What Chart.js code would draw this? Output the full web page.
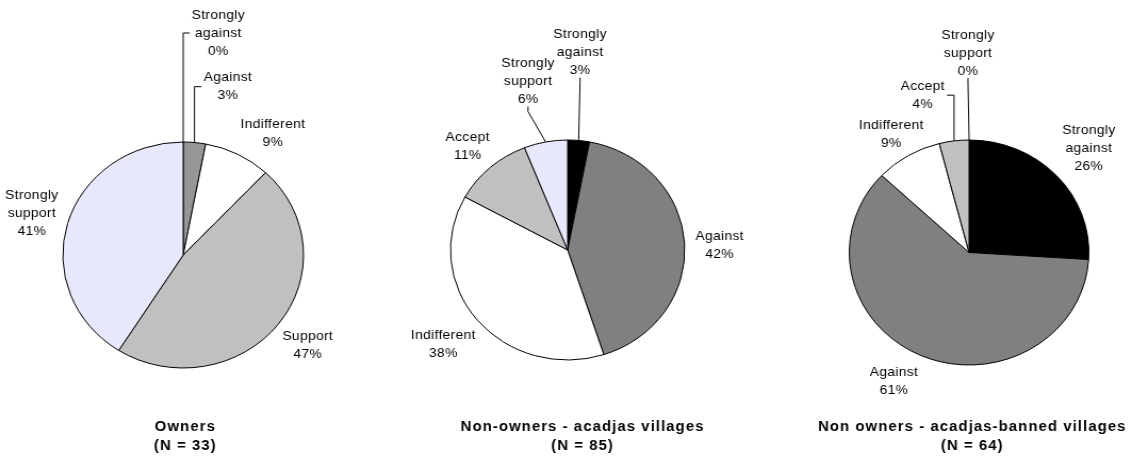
<!DOCTYPE html>
<html>
<head>
<meta charset="utf-8">
<title>Attitudes towards acadjas</title>
<script src="https://cdn.jsdelivr.net/npm/chart.js@4.4.1/dist/chart.umd.min.js"></script>
<style>
    body { margin: 0; background: #fff; width: 1133px; height: 458px; overflow: hidden; position: relative; }
    .pie { position: absolute; top: 0; transform-origin: 0 0; transform: scaleX(1.065); }
    canvas { display: block; }
</style>
</head>
<body>
<div class="pie" style="left:0px"><canvas id="owners" width="354" height="458"></canvas></div>
<div class="pie" style="left:377px"><canvas id="acadjas" width="354" height="458"></canvas></div>
<div class="pie" style="left:755px"><canvas id="banned" width="354" height="458"></canvas></div>
<script>
// data (percent of respondents)
var ownersLabels = ['Strongly against', 'Against', 'Indifferent', 'Support', 'Strongly support'];
var ownersValues = [0, 3, 9, 47, 41];

var acadjasLabels = ['Strongly against', 'Against', 'Indifferent', 'Accept', 'Strongly support'];
var acadjasValues = [3, 42, 38, 11, 6];

var bannedLabels = ['Strongly against', 'Against', 'Indifferent', 'Accept', 'Strongly support'];
var bannedValues = [26, 61, 9, 4, 0];

var ownersTitle = ['Owners', '(N = 33)'];
var acadjasTitle = ['Non-owners - acadjas villages', '(N = 85)'];
var bannedTitle = ['Non owners - acadjas-banned villages', '(N = 64)'];

// colours
var ownersColors = ['#000000', '#969696', '#ffffff', '#c0c0c0', '#e8e8fc'];
var villageColors = ['#000000', '#808080', '#ffffff', '#c0c0c0', '#e8e8fc'];

// label nudges (px, canvas units); leader lines only for the small crowded slices
var ownersNudge = [[33, -74], [28, -21], [17, 10], null, null];
var acadjasNudge = [[-2, -53], [-2, 5], [-5, 2], [2, 5], [-10, -26]];
var bannedNudge = [[5, -3], [-12, -6], [2, 9], [-25, -11], [-1, -52]];
var ownersLeader = [true, true, false, false, false];
var acadjasLeader = [true, false, false, false, true];
var bannedLeader = [false, false, false, true, true];

var labelFont = '13px "Liberation Sans", Arial, sans-serif';
var titleFont = 'bold 14px "Liberation Sans", Arial, sans-serif';

// draws outside labels, leader lines and the title under each pie
var pieText = {
    id: 'pieText',
    afterDraw: function (chart, args, opts) {
        var ctx = chart.ctx;
        var meta = chart.getDatasetMeta(0);
        var values = chart.data.datasets[0].data;
        ctx.save();
        ctx.fillStyle = '#000';
        ctx.strokeStyle = '#000';
        ctx.lineWidth = 1;
        ctx.font = labelFont;
        ctx.letterSpacing = '0.3px';
        ctx.textAlign = 'center';
        ctx.textBaseline = 'middle';

        meta.data.forEach(function (arc, i) {
            var p = arc.getProps(['x', 'y', 'startAngle', 'endAngle', 'outerRadius'], true);
            var mid = (p.startAngle + p.endAngle) / 2;
            var d = p.outerRadius + 35;
            var lx = p.x + Math.cos(mid) * d;
            var ly = p.y + Math.sin(mid) * d;
            var nudge = opts.nudge[i];
            if (nudge) {
                lx += nudge[0];
                ly += nudge[1];
            }
            var lines = chart.data.labels[i].split(' ');
            lines.push(values[i] + '%');
            var lh = 18;
            var top = ly - (lines.length - 1) * lh / 2;
            var hw = 0;
            lines.forEach(function (t, k) {
                ctx.fillText(t, lx, top + k * lh);
                hw = Math.max(hw, ctx.measureText(t).width / 2);
            });

            if (opts.leader[i]) {
                var px = p.x + Math.cos(mid) * p.outerRadius;
                var py = p.y + Math.sin(mid) * p.outerRadius;
                var bottom = ly + lines.length * lh / 2 - 2;
                ctx.beginPath();
                if (px > lx - hw && px < lx + hw) {
                    ctx.moveTo(lx, bottom);
                    ctx.lineTo(lx, bottom + 5);
                    ctx.lineTo(px, py);
                } else {
                    var side = px < lx ? lx - hw - 2 : lx + hw + 2;
                    ctx.moveTo(px, py);
                    ctx.lineTo(px, ly);
                    ctx.lineTo(side, ly);
                }
                ctx.stroke();
            }
        });

        ctx.font = titleFont;
        ctx.letterSpacing = '1px';
        opts.title.forEach(function (t, k) {
            ctx.fillText(t, opts.titleX, 427 + k * 19);
        });
        ctx.restore();
    }
};

function makePie(id, labels, values, colors, title, nudge, leader, box) {
    var ctx = document.getElementById(id).getContext('2d');
    var w = 354, h = 458, r = box.r + 0.5;
    return new Chart(ctx, {
        type: 'pie',
        data: {
            labels: labels,
            datasets: [{
                data: values,
                backgroundColor: colors,
                borderColor: '#000000',
                borderWidth: 1
            }]
        },
        options: {
            responsive: false,
            animation: false,
            layout: {
                padding: {
                    left: box.cx - r,
                    right: w - box.cx - r,
                    top: box.cy - r,
                    bottom: h - box.cy - r
                }
            },
            plugins: {
                legend: { display: false },
                tooltip: { enabled: false },
                pieText: { nudge: nudge, leader: leader, title: title, titleX: box.titleX }
            }
        },
        plugins: [pieText]
    });
}

makePie('owners', ownersLabels, ownersValues, ownersColors, ownersTitle, ownersNudge, ownersLeader,
    { cx: 172, cy: 255, r: 113, titleX: 174 });
makePie('acadjas', acadjasLabels, acadjasValues, villageColors, acadjasTitle, acadjasNudge, acadjasLeader,
    { cx: 179, cy: 250, r: 110, titleX: 193 });
makePie('banned', bannedLabels, bannedValues, villageColors, bannedTitle, bannedNudge, bannedLeader,
    { cx: 201, cy: 252.5, r: 112.5, titleX: 204 });
</script>
</body>
</html>
